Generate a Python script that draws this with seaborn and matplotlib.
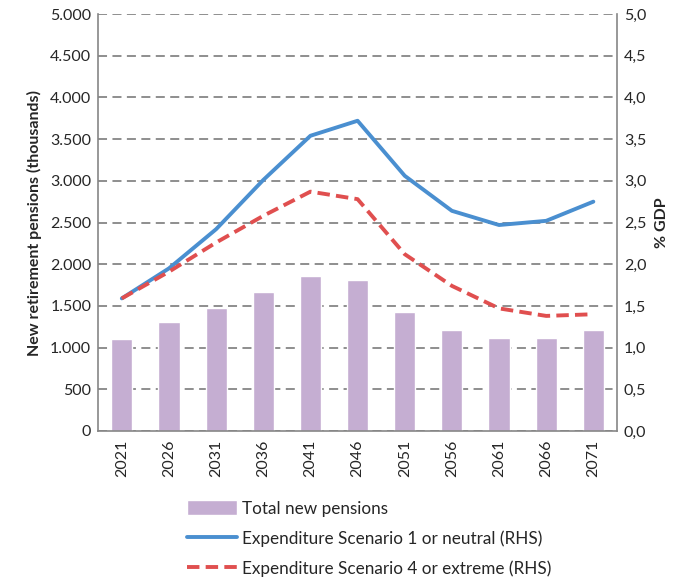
import numpy as np
import matplotlib
matplotlib.use('Agg')
import matplotlib.pyplot as plt
import matplotlib.ticker as mticker
import pandas as pd
import seaborn as sns

sns.set_style('white')
plt.rcParams['font.family'] = ['Lato', 'DejaVu Sans']

years = ['2021', '2026', '2031', '2036', '2041', '2046', '2051', '2056', '2061', '2066', '2071']
new_pensions = [1100, 1310, 1475, 1670, 1860, 1810, 1430, 1210, 1120, 1120, 1210]
scenario1 = [1.59, 1.95, 2.42, 3.01, 3.54, 3.72, 3.06, 2.64, 2.47, 2.52, 2.75]
scenario4 = [1.59, 1.91, 2.26, 2.58, 2.87, 2.78, 2.12, 1.74, 1.47, 1.38, 1.40]

df = pd.DataFrame({'year': years, 'pensions': new_pensions,
                   's1': scenario1, 's4': scenario4})
df['pos'] = np.arange(len(df))

grey = '#868686'
fig = plt.figure(figsize=(6.87, 5.84), dpi=100)
ax = fig.add_axes([0.143, 0.262, 0.755, 0.714])

# bars
sns.barplot(data=df, x='year', y='pensions', color='#c5aed2', saturation=1,
            width=0.45, ax=ax, label='Total new pensions')
ax.set_ylim(0, 5000)
ax.set_xlim(-0.5, len(years) - 0.5)
ax.set_yticks(np.arange(0, 5001, 500))
ax.yaxis.set_major_formatter(mticker.FuncFormatter(lambda v, p: f'{int(v):,}'.replace(',', '.')))
ax.yaxis.grid(True, color=grey, linestyle=(0, (5, 3)), linewidth=1.3)
ax.set_axisbelow(True)
ax.set_xlabel('')
ax.set_ylabel('New retirement pensions (thousands)', fontsize=11.5, fontweight='bold', labelpad=6)

# lines on secondary axis
ax2 = ax.twinx()
sns.lineplot(data=df, x='pos', y='s1', color='#4a8fd0', linewidth=2.8, ax=ax2,
             label='Expenditure Scenario 1 or neutral (RHS)')
sns.lineplot(data=df, x='pos', y='s4', color='#e04f4f', linewidth=2.8, ax=ax2,
             linestyle=(0, (3.2, 1.6)), label='Expenditure Scenario 4 or extreme (RHS)')
ax2.set_ylim(0, 5)
ax2.set_xlim(-0.5, len(years) - 0.5)
ax2.set_yticks(np.arange(0, 5.01, 0.5))
ax2.yaxis.set_major_formatter(mticker.FuncFormatter(lambda v, p: f'{v:.1f}'.replace('.', ',')))
ax2.set_ylabel('% GDP', fontsize=11.5, fontweight='bold', labelpad=6)
ax2.set_xlabel('')

# excel-like ticks between categories
ax.set_xticks(df['pos'])
ax.set_xticklabels(years, rotation=90, fontsize=11.5)
ax.set_xticks(np.arange(-0.5, len(years)), minor=True)
ax.tick_params(axis='x', which='major', length=0, pad=6)
ax.tick_params(axis='x', which='minor', length=5, color=grey, width=1.2)
ax.tick_params(axis='y', labelsize=11.5, length=0, pad=5)
ax2.tick_params(axis='y', labelsize=11.5, length=0, pad=5)

for a in (ax, ax2):
    for s in a.spines.values():
        s.set_visible(False)
for a, side in ((ax, 'left'), (ax, 'bottom'), (ax2, 'right')):
    a.spines[side].set_visible(True)
    a.spines[side].set_color(grey)
    a.spines[side].set_linewidth(1.2)

# legend below
h1, l1 = ax.get_legend_handles_labels()
h2, l2 = ax2.get_legend_handles_labels()
for a in (ax, ax2):
    if a.get_legend():
        a.get_legend().remove()
fig.legend(h1 + h2, l1 + l2, loc='upper left', bbox_to_anchor=(0.25, 0.17),
           ncol=1, frameon=False, fontsize=12.3, handlelength=2.9, handleheight=1.0,
           handletextpad=0.3, labelspacing=0.8)

fig.savefig('out.png', dpi=100)
